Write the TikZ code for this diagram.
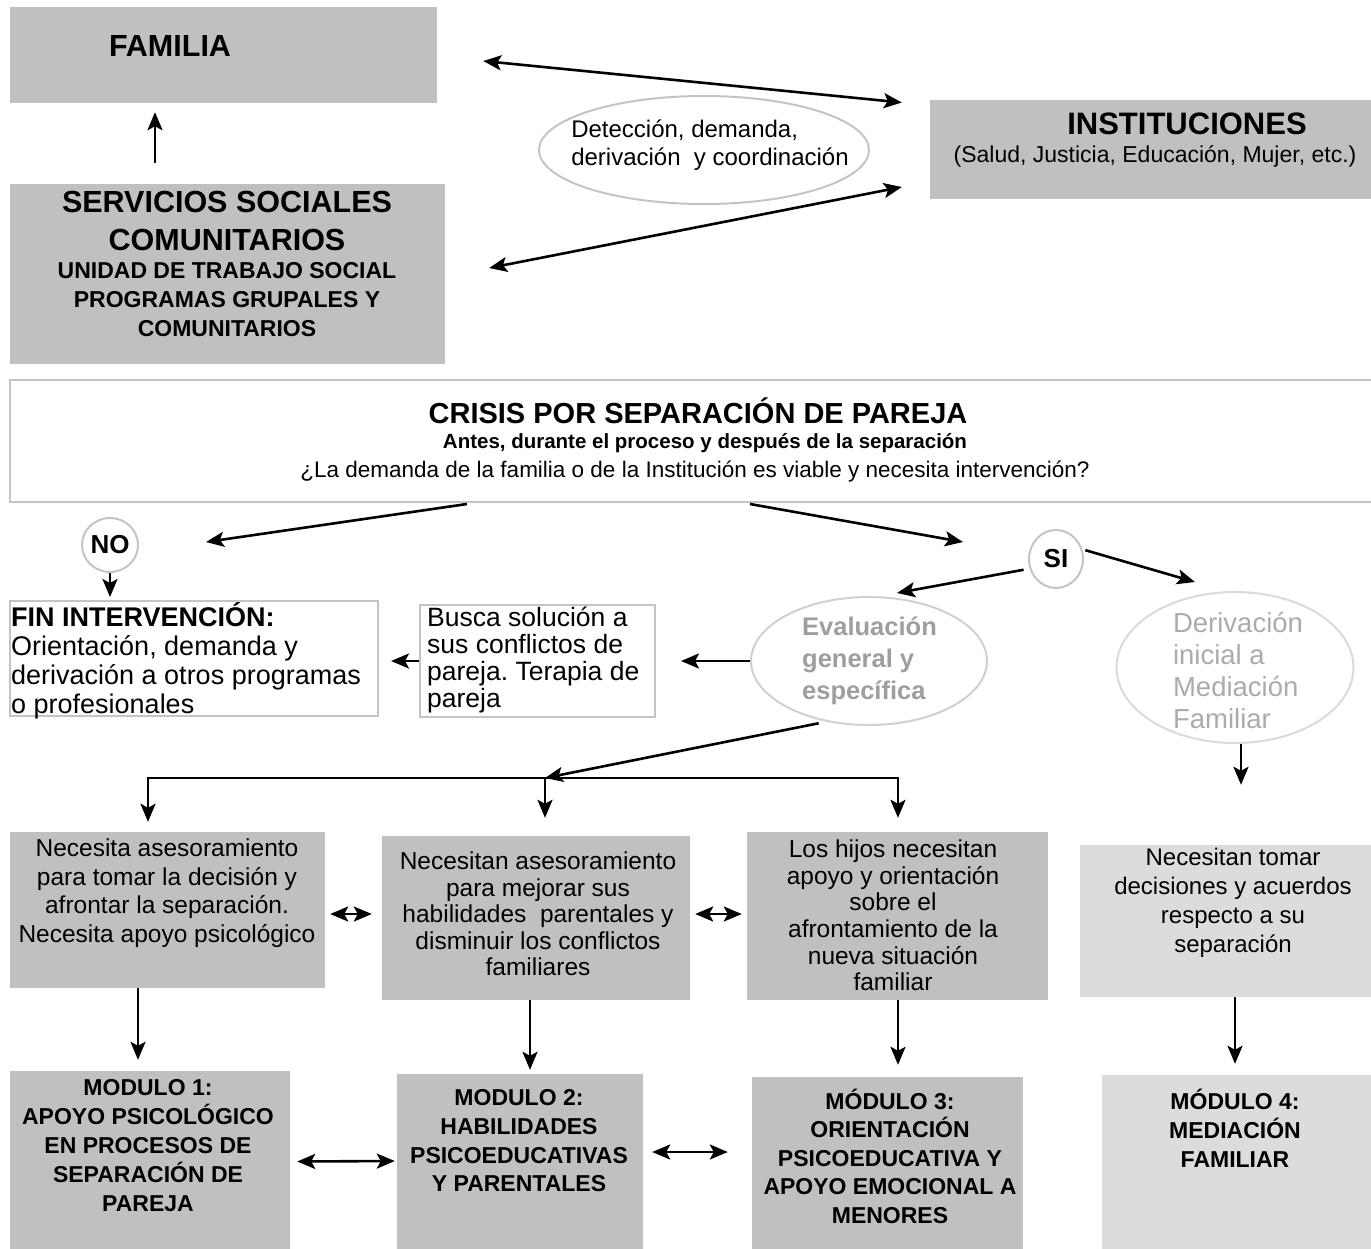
\documentclass[tikz,border=0pt]{standalone}
\usepackage{fontspec}
\setmainfont{Liberation Sans}
\usetikzlibrary{shapes.geometric,arrows.meta}
\definecolor{boxgray}{HTML}{C0C0C0}
\definecolor{boxlight}{HTML}{DCDCDC}
\definecolor{framegray}{HTML}{C4C4C4}
\definecolor{ovalgray}{HTML}{DADADA}
\definecolor{evaltext}{HTML}{9E9E9E}
\definecolor{derivtext}{HTML}{ABABAB}
\frenchspacing

\begin{document}
\begin{tikzpicture}[x=1pt,y=-1pt]
    \tikzstyle{gbox}=[rectangle, fill=boxgray, inner sep=0pt]
    \tikzstyle{lbox}=[rectangle, fill=boxlight, inner sep=0pt]
    \tikzstyle{wbox}=[rectangle, draw=framegray, line width=2pt, fill=white, inner sep=0pt]
    \tikzstyle{oval}=[ellipse, draw=framegray, line width=2pt, inner sep=0pt]
    \tikzstyle{txt}=[align=center, inner sep=0pt]
    \tikzstyle{arr}=[line width=2.6pt, -{Stealth[length=18pt,width=15pt,inset=4pt]}]
    \tikzstyle{darr}=[line width=2.6pt, {Stealth[length=18pt,width=15pt,inset=4pt]}-{Stealth[length=18pt,width=15pt,inset=4pt]}]
    \useasboundingbox (0,0) rectangle (1371,1248);
    \clip (0,0) rectangle (1371,1248);
    % top row
    \node[gbox, minimum width=427pt, minimum height=96pt] (fam) at (223.5,55) {};
    \node[txt, font=\fontsize{30.5}{36}\selectfont\bfseries] (famtxt) at (170,46) {FAMILIA};
    \node[gbox, minimum width=435pt, minimum height=180pt] (ssc) at (227.5,274) {};
    \node[txt, font=\fontsize{30.5}{38}\selectfont\bfseries] (ssctop) at (227,221) {SERVICIOS SOCIALES\\COMUNITARIOS};
    \node[txt, font=\fontsize{23}{29}\selectfont\bfseries] (sscbot) at (227,300) {UNIDAD DE TRABAJO SOCIAL\\PROGRAMAS GRUPALES Y\\COMUNITARIOS};
    \node[oval, minimum width=330pt, minimum height=108pt] (det) at (704,150) {};
    \node[txt, align=left, font=\fontsize{24}{28}\selectfont] (dettxt) at (710,145) {Detección, demanda,\\derivación~ y coordinación};
    \node[gbox, minimum width=441pt, minimum height=99pt] (inst) at (1150.5,149.5) {};
    \node[txt, font=\fontsize{31}{36}\selectfont\bfseries] (insttop) at (1187,124) {INSTITUCIONES};
    \node[txt, font=\fontsize{23}{28}\selectfont] (instbot) at (1155,156) {(Salud, Justicia, Educación, Mujer, etc.)};
    \draw[arr] ([shift={(-72.5,-21)}]ssc.north) -- ([shift={(-68.5,9)}]fam.south);
    \draw[darr] ([shift={(46,6)}]fam.east) -- ([shift={(-28,-47)}]inst.west);
    \draw[darr] ([shift={(44,-6)}]ssc.east) -- ([shift={(-28,37.5)}]inst.west);
    % crisis
    \node[wbox, minimum width=1370pt, minimum height=122pt] (crisis) at (695,441) {};
    \node[txt, font=\fontsize{29}{34}\selectfont\bfseries] (crisistop) at (698,411) {CRISIS POR SEPARACIÓN DE PAREJA};
    \node[txt, font=\fontsize{20.5}{24}\selectfont\bfseries] (crisismid) at (705,443) {Antes, durante el proceso y después de la separación};
    \node[txt, font=\fontsize{22.5}{27}\selectfont] (crisisbot) at (695,472) {¿La demanda de la familia o de la Institución es viable y necesita intervención?};
    \node[oval, minimum width=56pt, minimum height=54pt, font=\fontsize{26}{28}\selectfont\bfseries] (no) at (110,545) {NO};
    \node[oval, minimum width=54pt, minimum height=58pt, font=\fontsize{26}{28}\selectfont\bfseries] (si) at (1056,559) {SI};
    \draw[arr] ([shift={(-228,1)}]crisis.south) -- ([shift={(67,-3)}]no.east);
    \draw[arr] ([shift={(55,1)}]crisis.south) -- ([shift={(-65,-17)}]si.west);
    % NO branch
    \node[wbox, minimum width=368pt, minimum height=115pt] (fin) at (194,658.5) {};
    \node[txt, align=left, anchor=north west, font=\fontsize{27}{29}\selectfont] (fintxt) at (11,602) {\textbf{FIN INTERVENCIÓN:}\\Orientación, demanda y\\derivación a otros programas\\o profesionales};
    \node[wbox, minimum width=235pt, minimum height=112pt] (busca) at (537.5,661) {};
    \node[txt, align=left, anchor=north west, font=\fontsize{26.5}{27}\selectfont] (buscatxt) at (427,607) {Busca solución a\\sus conflictos de\\pareja. Terapia de\\pareja};
    \draw[arr, shorten >=3pt] (no.south) -- (no.south |- fin.north);
    \draw[arr, shorten >=12pt] (busca.west) -- (busca.west -| fin.east);
    % SI branch
    \node[oval, draw=framegray!80, minimum width=236pt, minimum height=128pt] (eval) at (869,661) {};
    \node[txt, align=left, text=evaltext, font=\fontsize{25.5}{32}\selectfont\bfseries] (evaltxt) at (869.5,661) {Evaluación\\general y\\específica};
    \node[oval, draw=ovalgray, minimum width=237pt, minimum height=151pt] (deriv) at (1235,667.5) {};
    \node[txt, align=left, text=derivtext, font=\fontsize{27.5}{32}\selectfont] (derivtxt) at (1238,670) {Derivación\\inicial a\\Mediación\\Familiar};
    \draw[arr, shorten <=6pt] (si.200) -- ([shift={(28,-3)}]eval.north);
    \draw[arr, shorten <=3pt] (si.20) -- ([shift={(-40,-9)}]deriv.north);
    \draw[arr, shorten >=25pt] (eval.west) -- (eval.west -| busca.east);
    \coordinate (hub) at (545,778);
    \draw[arr, shorten <=8pt] (eval.235) -- (hub);
    % needs
    \node[gbox, minimum width=315pt, minimum height=156pt] (b1) at (167.5,910) {};
    \node[txt, font=\fontsize{24.5}{28.5}\selectfont] (b1txt) at (167,893) {Necesita asesoramiento\\para tomar la decisión y\\afrontar la separación.\\Necesita apoyo psicológico};
    \node[gbox, minimum width=308pt, minimum height=164pt] (b2) at (536,918) {};
    \node[txt, font=\fontsize{24.5}{26.5}\selectfont] (b2txt) at (538,914) {Necesitan asesoramiento\\para mejorar sus\\habilidades~ parentales y\\disminuir los conflictos\\familiares};
    \node[gbox, minimum width=301pt, minimum height=168pt] (b3) at (897.5,916) {};
    \node[txt, font=\fontsize{24.5}{26.6}\selectfont] (b3txt) at (893,915.5) {Los hijos necesitan\\apoyo y orientación\\sobre el\\afrontamiento de la\\nueva situación\\familiar};
    \node[lbox, minimum width=291pt, minimum height=152pt] (b4) at (1225.5,921) {};
    \node[txt, font=\fontsize{24}{29}\selectfont] (b4txt) at (1233,903) {Necesitan tomar\\decisiones y acuerdos\\respecto a su\\separación};
    \draw[arr] (hub) -| ([shift={(-19.5,-10)}]b1.north);
    \draw[arr] (hub) -- ([shift={(9,-18)}]b2.north);
    \draw[arr] (hub) -| ([shift={(0.5,-14)}]b3.north);
    \draw[arr] ([xshift=6pt]deriv.south) -- ([shift={(15.5,-60)}]b4.north);
    \draw[darr] ([shift={(5,4)}]b1.east) -- ([shift={(-10,-4)}]b2.west);
    \draw[darr] ([shift={(5,-4)}]b2.east) -- ([shift={(-5,-2)}]b3.west);
    % modules
    \node[gbox, minimum width=280pt, minimum height=189pt] (m1) at (150,1165.5) {};
    \node[txt, font=\fontsize{23}{29}\selectfont\bfseries] (m1txt) at (148,1146) {MODULO 1:\\APOYO PSICOLÓGICO\\EN PROCESOS DE\\SEPARACIÓN DE\\PAREJA};
    \node[gbox, minimum width=246pt, minimum height=186pt] (m2) at (520,1167) {};
    \node[txt, font=\fontsize{23}{28.7}\selectfont\bfseries] (m2txt) at (519,1141) {MODULO 2:\\HABILIDADES\\PSICOEDUCATIVAS\\Y PARENTALES};
    \node[gbox, minimum width=271pt, minimum height=183pt] (m3) at (887.5,1168.5) {};
    \node[txt, font=\fontsize{23}{28.5}\selectfont\bfseries] (m3txt) at (890,1156) {MÓDULO 3:\\ORIENTACIÓN\\PSICOEDUCATIVA Y\\APOYO EMOCIONAL A\\MENORES};
    \node[lbox, minimum width=278pt, minimum height=185pt] (m4) at (1241,1167.5) {};
    \node[txt, font=\fontsize{23}{29}\selectfont\bfseries] (m4txt) at (1235,1128) {MÓDULO 4:\\MEDIACIÓN\\FAMILIAR};
    \draw[arr] ([xshift=-29.5pt]b1.south) -- ([shift={(-12,-11)}]m1.north);
    \draw[arr] ([xshift=-6pt]b2.south) -- ([shift={(10,-4)}]m2.north);
    \draw[arr] ([xshift=0.5pt]b3.south) -- ([shift={(10.5,-12)}]m3.north);
    \draw[arr] ([xshift=9.5pt]b4.south) -- ([shift={(-6,-11)}]m4.north);
    \draw[darr] ([shift={(7,-4)}]m1.east) -- ([shift={(-2,-6)}]m2.west);
    \draw[darr] ([shift={(9,-15)}]m2.east) -- ([shift={(-24,-16.5)}]m3.west);
  \end{tikzpicture}
\end{document}
